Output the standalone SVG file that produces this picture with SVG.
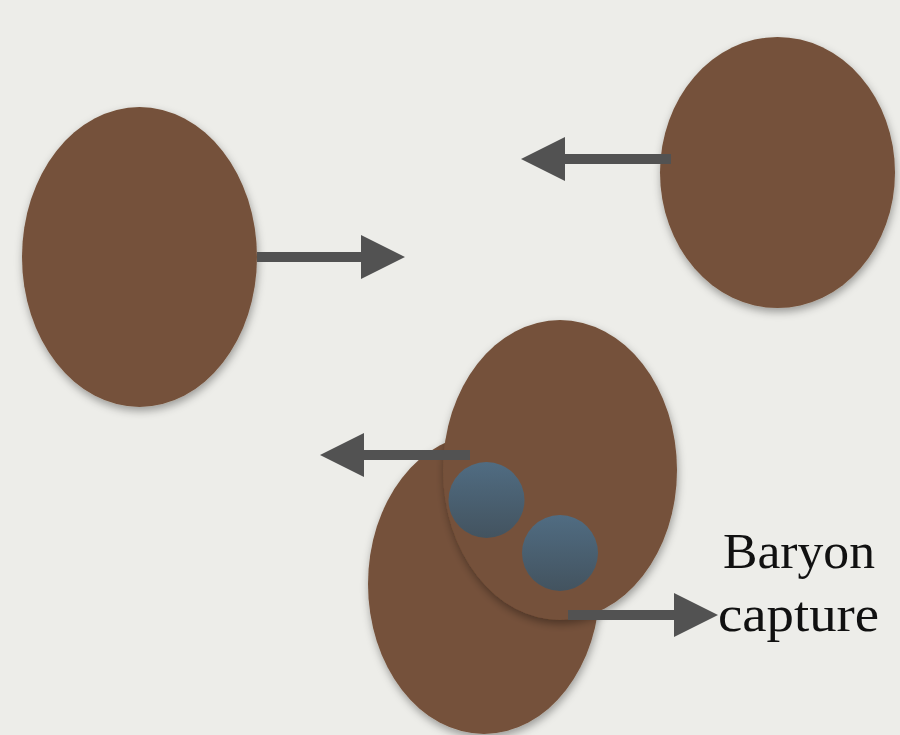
<svg xmlns="http://www.w3.org/2000/svg" width="900" height="735" viewBox="0 0 900 735">
  <defs>
    <filter id="shadow" x="-20%" y="-20%" width="140%" height="140%">
      <feDropShadow dx="1" dy="4" stdDeviation="4" flood-color="#000" flood-opacity="0.35"/>
    </filter>
    <linearGradient id="baryon" x1="0" y1="0" x2="0" y2="1">
      <stop offset="0" stop-color="#506c82"/>
      <stop offset="1" stop-color="#43535f"/>
    </linearGradient>
    <style>
      .blob { fill: #75513a; filter: url(#shadow); }
      .ball { fill: url(#baryon); }
      .arrow { fill: #525252; }
      .label { font-family: "Liberation Serif", "Times New Roman", serif; font-size: 51px; fill: #111; }
    </style>
  </defs>
  <rect width="900" height="735" fill="#edede9"/>

  <g id="cluster-left">
    <ellipse class="blob" cx="139.5" cy="257" rx="117.5" ry="150"/>
  </g>
  <g id="cluster-right">
    <ellipse class="blob" cx="777.5" cy="172.5" rx="117.5" ry="135.5"/>
  </g>
  <g id="cluster-back">
    <ellipse class="blob" cx="484" cy="584" rx="116" ry="150"/>
  </g>
  <g id="cluster-front">
    <ellipse class="blob" cx="560" cy="470" rx="117" ry="150"/>
  </g>
  <g id="baryon-1">
    <circle class="ball" cx="486.5" cy="500" r="38"/>
  </g>
  <g id="baryon-2">
    <circle class="ball" cx="560" cy="553" r="38"/>
  </g>

  <g id="connectors">
    <polygon class="arrow" points="257,252 361,252 361,235 405,257 361,279 361,262 257,262"/>
    <polygon class="arrow" points="671,154 565,154 565,137 521,159 565,181 565,164 671,164"/>
    <polygon class="arrow" points="470,450 364,450 364,433 320,455 364,477 364,460 470,460"/>
    <polygon class="arrow" points="568,610 674,610 674,593 718,615 674,637 674,620 568,620"/>
  </g>

  <g id="label">
    <text class="label" x="723" y="568" textLength="152" lengthAdjust="spacingAndGlyphs">Baryon</text>
    <text class="label" x="718" y="631" textLength="161" lengthAdjust="spacingAndGlyphs">capture</text>
  </g>
</svg>
